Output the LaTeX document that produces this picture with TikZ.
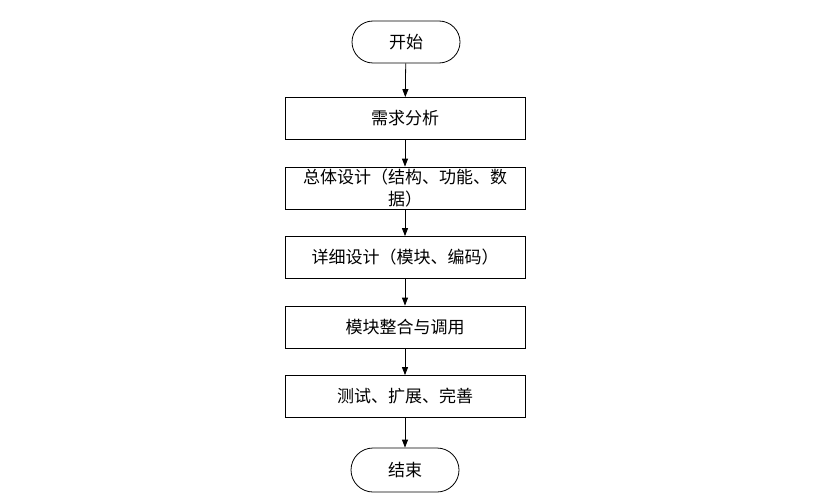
\documentclass[tikz,border=0pt]{standalone}
\usepackage{fontspec}
\newfontfamily\cjk{Noto Sans CJK SC}
\usetikzlibrary{arrows.meta}
\tikzset{
  stepbox/.style={draw, line width=0.8pt, minimum width=240pt, minimum height=42pt, inner sep=0pt, align=center},
  termbox/.style={draw, line width=0.8pt, minimum width=108pt, minimum height=42pt, rounded corners=21pt, inner sep=0pt},
  flow/.style={line width=0.8pt, -{Triangle[length=8pt,width=6pt]}}
}
\begin{document}
\begin{tikzpicture}[x=1pt, y=1pt, font=\cjk\fontsize{17}{22}\selectfont]
  \useasboundingbox (0,0) rectangle (826,-500);
  \node[termbox] (start) at (406,-42) {开始}; %开始
  \node[stepbox] (need)  at (405,-118.5) {需求分析};
  \node[stepbox] (whole) at (405,-188) {总体设计（结构、功能、数\\据）};
  \node[stepbox] (detail) at (405,-257.5) {详细设计（模块、编码）};
  \node[stepbox] (merge) at (405,-327) {模块整合与调用};
  \node[stepbox] (test)  at (405,-396.5) {测试、扩展、完善};
  \node[termbox, minimum height=44pt, rounded corners=22pt] (stop) at (405,-470) {结束}; %结束
  \draw[flow] (start) -- (need);
  \draw[flow] (need) -- (whole);
  \draw[flow] (whole) -- (detail);
  \draw[flow] (detail) -- (merge);
  \draw[flow] (merge) -- (test);
  \draw[flow] (test) -- (stop); %矢印
\end{tikzpicture}
\end{document}
